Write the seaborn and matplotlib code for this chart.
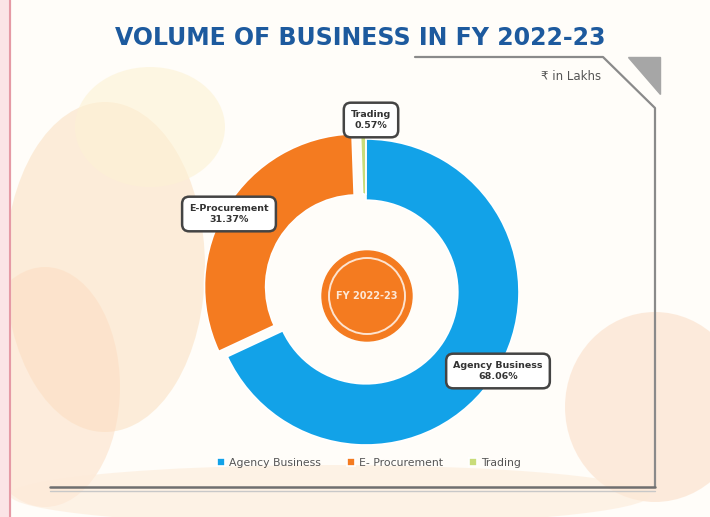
import numpy as np
import matplotlib.pyplot as plt
import seaborn as sns
from matplotlib.patches import Circle, Polygon, Ellipse

# данные
segments = ['Agency Business', 'E- Procurement', 'Trading']
box_names = ['Agency Business', 'E-Procurement', 'Trading']
shares = [68.06, 31.37, 0.57]
colors = ['#12a2e8', '#f47b20', '#c9dc7a']
explode = [0, 10, 6]

title = 'VOLUME OF BUSINESS IN FY 2022-23'
unit_note = '₹ in Lakhs'
center_text = 'FY 2022-23'

sns.set_theme(style='white')
plt.rcParams['font.family'] = ['DejaVu Sans']

W, H = 710, 517
fig = plt.figure(figsize=(W / 100, H / 100), dpi=100)
ax = fig.add_axes([0, 0, 1, 1])

# фон
fig.patch.set_facecolor('#fffdf9')
for (x, y, w, h, c, a) in [(105, 250, 200, 330, '#fbe6cc', 0.7),
                           (45, 130, 150, 240, '#fcdcc0', 0.5),
                           (655, 110, 180, 190, '#fbdcc4', 0.55),
                           (330, 22, 640, 60, '#fdebd9', 0.6),
                           (150, 390, 150, 120, '#fdf2d4', 0.6)]:
    ax.add_patch(Ellipse((x, y), w, h, color=c, alpha=a, lw=0, zorder=0))
ax.axvline(10, color='#e59aa5', lw=1.5, zorder=1)
ax.axvspan(0, 10, color='#fbe4e6', zorder=0)

# рамка панели
ax.plot([415, 603, 655, 655], [H - 57, H - 57, H - 108, H - 487], color='#8a8a8a', lw=1.6, zorder=2)
ax.plot([50, 655], [H - 487, H - 487], color='#6f6f6f', lw=1.8, zorder=2)
ax.plot([50, 655], [H - 491, H - 491], color='#c8c8c8', lw=1.0, zorder=2)
ax.add_patch(Polygon([(628, H - 57), (660, H - 57), (660, H - 94)], closed=True,
                     color='#a6a6a6', zorder=2))

ax.text(360, H - 38, title, ha='center', va='center', fontsize=17,
        fontweight='heavy', color='#1d5a9e', zorder=3)
ax.text(601, H - 77, unit_note, ha='right', va='center', fontsize=8.5, color='#555555', zorder=3)

# кольцевая диаграмма
cx, cy, r = 366, H - 292, 153
wedges, _ = ax.pie(shares, colors=colors, startangle=90, counterclock=False,
                   radius=r, center=(cx, cy), explode=explode,
                   wedgeprops=dict(width=r * 0.40, edgecolor='white', linewidth=1.2),
                   frame=True)
ax.set_xlim(0, W)
ax.set_ylim(0, H)
ax.set_aspect('equal')
ax.axis('off')
for wd in wedges:
    wd.set_zorder(3)

# центр
ax.add_patch(Circle((cx + 1, cy - 4), 45, color='#f47b20', zorder=4))
ax.add_patch(Circle((cx + 1, cy - 4), 38, fill=False, ec='#fde3cf', lw=1.4, zorder=5))
ax.text(cx + 1, cy - 4, center_text, ha='center', va='center', fontsize=7,
        fontweight='bold', color='#fde8d6', zorder=6)

# подписи
label_pos = [(498, H - 371), (229, H - 214), (371, H - 120)]
for name, val, (lx, ly) in zip(box_names, shares, label_pos):
    ax.text(lx, ly, f'{name}\n{val:.2f}%', ha='center', va='center', fontsize=6.8,
            fontweight='bold', color='#333333', linespacing=1.35, zorder=7,
            bbox=dict(boxstyle='round,pad=0.75', fc='white', ec='#444444', lw=1.8))

ax.legend(wedges, segments, loc='center', bbox_to_anchor=(0.52, 1 - 463 / H),
          ncol=3, frameon=False, fontsize=7.8, handlelength=0.7, handleheight=0.7,
          columnspacing=2.4, handletextpad=0.4, labelcolor='#555555')

fig.savefig('out.png', dpi=100)
